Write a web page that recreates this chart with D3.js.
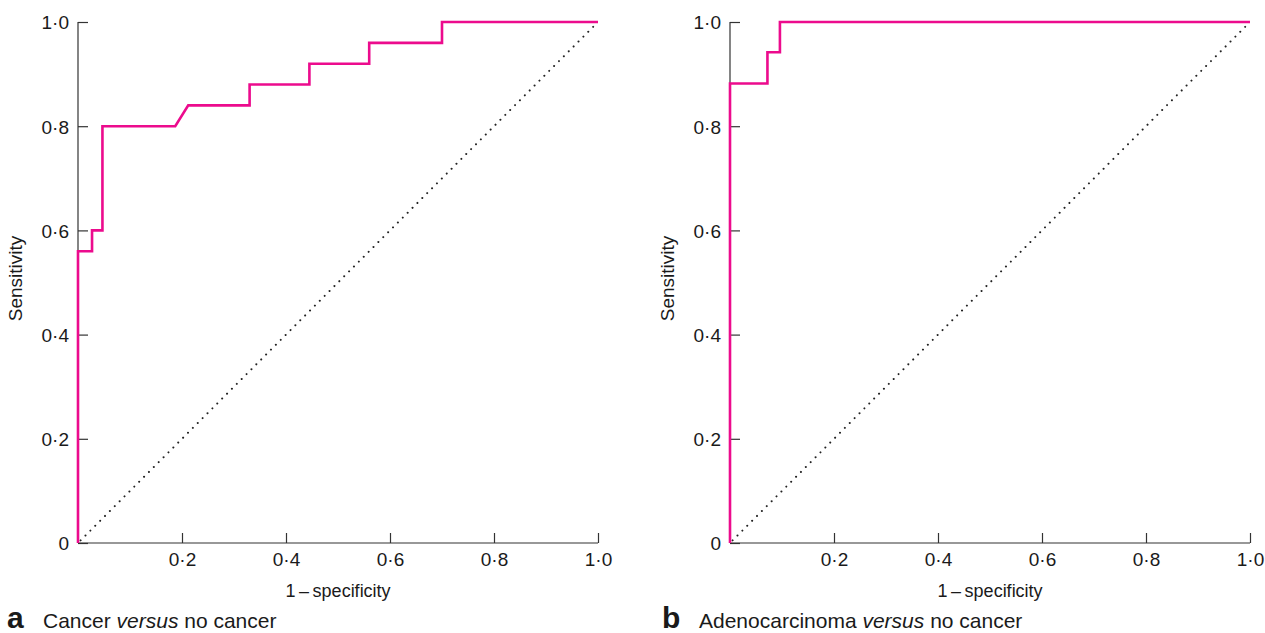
<!DOCTYPE html>
<html><head><meta charset="utf-8">
<script src="https://cdn.jsdelivr.net/npm/d3@7"></script>
<style>
body{margin:0;background:#fff;}
svg{font-family:"Liberation Sans",Arial,sans-serif;}
</style></head>
<body><svg id="c" width="1265" height="633"></svg>
<script>
// ROC curve data (1 - specificity, sensitivity)
const rocAFpr  = [0, 0,    0.027, 0.027, 0.047, 0.047, 0.187, 0.212, 0.33, 0.33, 0.445, 0.445, 0.56, 0.56, 0.70, 0.70, 1.0];
const rocASens = [0, 0.56, 0.56,  0.60,  0.60,  0.80,  0.80,  0.84,  0.84, 0.88, 0.88,  0.92,  0.92, 0.96, 0.96, 1.0,  1.0];
const rocBFpr  = [0, 0,     0.072, 0.072, 0.096, 0.096, 1.0];
const rocBSens = [0, 0.882, 0.882, 0.942, 0.942, 1.0,   1.0];
const yTicks = [0, 0.2, 0.4, 0.6, 0.8, 1.0];
const xTicks = [0.2, 0.4, 0.6, 0.8, 1.0];
const panelLetters = ["a", "b"];
const panelTitles = [["Cancer ", "versus", " no cancer"], ["Adenocarcinoma ", "versus", " no cancer"]];
const xLabel = "1\u2009\u2013\u2009specificity";
const yLabel = "Sensitivity";

const svg = d3.select("#c");
const fmt = v => v === 0 ? "0" : d3.format(".1f")(v).replace(".", "\u00B7");
const pink = "#ec0b8d";
const ink = "#1a1a1a";

const panels = [
  {x0: 78, x1: 598, fpr: rocAFpr, sens: rocASens, letterX: 7, titleX: 43, ylabX: 22},
  {x0: 730, x1: 1250, fpr: rocBFpr, sens: rocBSens, letterX: 662, titleX: 699, ylabX: 674}
];
const yTop = 22, yBot = 543;

panels.forEach((p, i) => {
  const x = d3.scaleLinear().domain([0, 1]).range([p.x0, p.x1]);
  const y = d3.scaleLinear().domain([0, 1]).range([yBot, yTop]);
  const g = svg.append("g");

  // axes
  const ya = g.append("g").attr("transform", `translate(${p.x0},0)`)
    .call(d3.axisLeft(y).tickValues(yTicks).tickFormat(fmt).tickSizeInner(-10).tickSizeOuter(0).tickPadding(9));
  const xa = g.append("g").attr("transform", `translate(0,${yBot})`)
    .call(d3.axisBottom(x).tickValues(xTicks).tickFormat(fmt).tickSizeInner(-10).tickSizeOuter(0).tickPadding(10));
  [ya, xa].forEach(a => {
    a.select(".domain").remove();
    a.selectAll("line").attr("stroke", "#333").attr("stroke-width", 1.2);
    a.selectAll("text").attr("font-size", 19).attr("fill", ink).attr("font-family", "Liberation Sans, Arial, sans-serif");
  });
  ya.selectAll("text").attr("dy", "0.36em");
  xa.selectAll("text").attr("dy", "0.71em");
  // axis lines
  g.append("line").attr("x1", p.x0).attr("x2", p.x0).attr("y1", y(0)).attr("y2", y(1))
    .attr("stroke", "#333").attr("stroke-width", 1.2);
  g.append("line").attr("x1", p.x0).attr("x2", p.x1).attr("y1", y(0)).attr("y2", y(0))
    .attr("stroke", "#333").attr("stroke-width", 1.2);

  // diagonal reference
  g.append("line")
    .attr("x1", x(0.005)).attr("y1", y(0.005)).attr("x2", x(1)).attr("y2", y(1))
    .attr("stroke", "#222").attr("stroke-width", 2)
    .attr("stroke-linecap", "round").attr("stroke-dasharray", "0.01 6.9");

  // ROC curve
  const pts = p.fpr.map((f, k) => [f, p.sens[k]]);
  g.append("path").datum(pts)
    .attr("d", d3.line().x(d => x(d[0])).y(d => y(d[1])))
    .attr("fill", "none").attr("stroke", pink).attr("stroke-width", 2.6)
    .attr("stroke-linejoin", "miter");

  // axis labels
  g.append("text").attr("x", (p.x0 + p.x1) / 2).attr("y", 597)
    .attr("text-anchor", "middle").attr("font-size", 18).attr("fill", ink).text(xLabel);
  g.append("text").attr("transform", `translate(${p.ylabX},${(yTop + yBot) / 2 - 4}) rotate(-90)`)
    .attr("text-anchor", "middle").attr("font-size", 19).attr("fill", ink).text(yLabel);

  // caption
  g.append("text").attr("x", p.letterX).attr("y", 628)
    .attr("font-size", 30).attr("font-weight", "bold").attr("fill", ink).text(panelLetters[i]);
  const t = g.append("text").attr("x", p.titleX).attr("y", 628)
    .attr("font-size", 21).attr("fill", ink);
  panelTitles[i].forEach((s, k) => {
    t.append("tspan").attr("font-style", k === 1 ? "italic" : "normal").text(s);
  });
});
</script></body></html>
